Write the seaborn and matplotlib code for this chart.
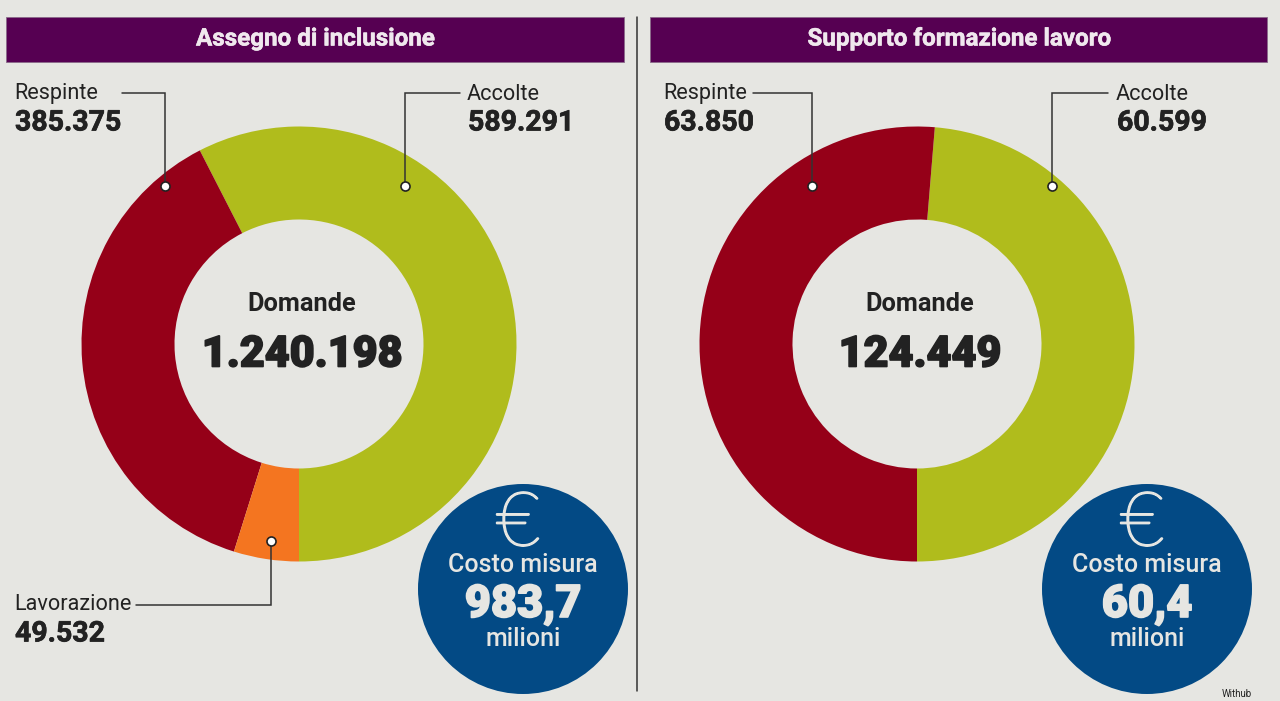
"""Assegno di inclusione / Supporto formazione lavoro - domande e costo misura"""

import seaborn as sns
import matplotlib.pyplot as plt
import matplotlib.patheffects as pe
from matplotlib.patches import Circle, Rectangle

# Dati
titles = ['Assegno di inclusione', 'Supporto formazione lavoro']
totals = ['1.240.198', '124.449']
costs = ['983,7', '60,4']
slices_left = ['Accolte', 'Respinte', 'Lavorazione']
values_left = [589291, 385375, 49532]
labels_left = ['589.291', '385.375', '49.532']
slices_right = ['Accolte', 'Respinte']
values_right = [60599, 63850]
labels_right = ['60.599', '63.850']

BG = '#e6e6e2'
PURPLE = '#560052'
BLUE = '#034a85'
DARK = '#222222'
palette = sns.color_palette(['#b0bc1c', '#950018', '#f47520'])

sns.set_theme(style='white', rc={'figure.facecolor': BG, 'axes.facecolor': BG})
plt.rcParams['font.family'] = ['Roboto', 'DejaVu Sans']

fig = plt.figure(figsize=(12.8, 7.01), dpi=100)
ax = fig.add_axes([0, 0, 1, 1])


def Y(py):
    # coordinate in pixel dall'alto, come nell'immagine
    return 701 - py


def heavy(color, width=1.2):
    # Roboto Black non basta: ispessisce i numeri grandi
    return [pe.withStroke(linewidth=width, foreground=color)]


def donut(cx, values):
    ax.pie(values, colors=palette[:len(values)], startangle=270, counterclock=True,
           center=(cx, Y(344)), radius=217.5, frame=True,
           wedgeprops={'width': 93, 'linewidth': 0})
    ax.text(cx + 3, Y(304), 'Domande', ha='center', va='center', fontsize=18.3,
            fontweight='bold', color=DARK)


def total(cx, number):
    ax.text(cx + 3, Y(355), number, ha='center', va='center', fontsize=31, fontweight='black',
            color=DARK, path_effects=heavy(DARK))


def leader(points):
    xs = [p[0] for p in points]
    ys = [Y(p[1]) for p in points]
    ax.plot(xs, ys, color='#333333', lw=1.1, zorder=4, solid_joinstyle='miter')
    ax.plot(xs[-1], ys[-1], 'o', ms=6.5, mfc='white', mec='#222222', mew=1.2, zorder=5)


def callout(x, name, number, py=94):
    ax.text(x - 1, Y(py), name, ha='left', va='center', fontsize=15.6, fontweight='normal', color=DARK)
    ax.text(x, Y(py + 29), number, ha='left', va='center', fontsize=20.5, fontweight='bold',
            color=DARK, path_effects=heavy(DARK, 0.5))


def badge(cx, cost):
    ax.add_patch(Circle((cx, Y(589)), 105, fc=BLUE, ec='none', zorder=6))
    ax.text(cx - 5, Y(525), '€', ha='center', va='center', fontsize=54, fontweight='light',
            family=['Lato', 'DejaVu Sans'], color=BG, zorder=7, path_effects=heavy(BG, 1.5))
    ax.text(cx, Y(565), 'Costo misura', ha='center', va='center', fontsize=18, fontweight='medium',
            color=BG, zorder=7)
    ax.text(cx, Y(605), cost, ha='center', va='center', fontsize=32.5, fontweight='black',
            color=BG, zorder=7, path_effects=heavy(BG))
    ax.text(cx, Y(639), 'milioni', ha='center', va='center', fontsize=18, fontweight='medium',
            color=BG, zorder=7)


# Intestazioni
for x0, x1, title in [(6, 624, titles[0]), (650, 1267, titles[1])]:
    ax.add_patch(Rectangle((x0, Y(62)), x1 - x0, 45, fc=PURPLE, ec='#8a6a8a', lw=0.6))
    ax.text((x0 + x1) / 2, Y(39), title, ha='center', va='center', fontsize=17.4,
            fontweight='bold', color='#f0e8ee', path_effects=heavy('#f0e8ee', 0.4))

ax.plot([637, 637], [Y(17), Y(691)], color='#333333', lw=1.1)

# Ciambella sinistra
donut(299, values_left)
total(299, totals[0])
leader([(122, 93), (165, 93), (165, 186)])
leader([(460, 93), (405, 93), (405, 186)])
leader([(136, 605), (271, 605), (271, 541)])
callout(15, slices_left[1], labels_left[1])
callout(468, slices_left[0], labels_left[0])
callout(15, slices_left[2], labels_left[2], py=605)
badge(523, costs[0])

# Ciambella destra
donut(917, values_right)
total(917, totals[1])
leader([(753, 93), (812, 93), (812, 186)])
leader([(1108, 93), (1052, 93), (1052, 186)])
callout(664, slices_right[1], labels_right[1])
callout(1117, slices_right[0], labels_right[0])
badge(1147, costs[1])

# Credito in basso a destra
ax.text(1222, Y(694), 'Withub', ha='left', va='center', fontsize=7, color=DARK)

ax.set_xlim(0, 1280)
ax.set_ylim(0, 701)
ax.set_aspect('auto')
ax.axis('off')

plt.savefig('out.png', dpi=100, facecolor=BG)
